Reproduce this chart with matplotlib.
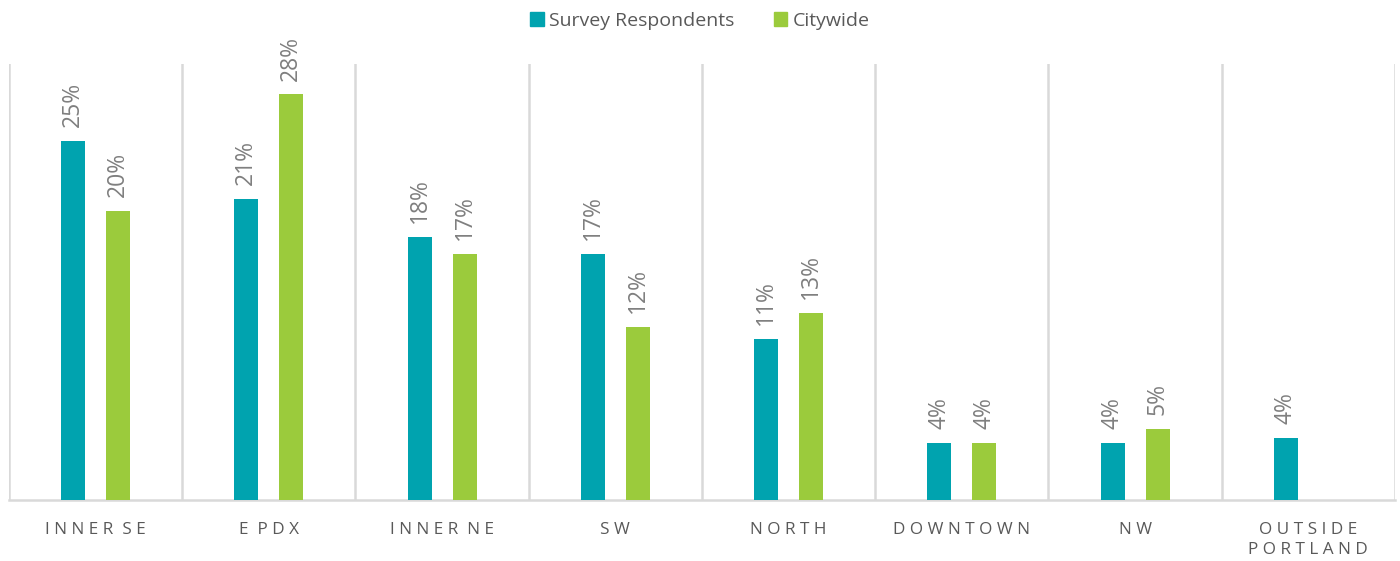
import matplotlib.pyplot as plt
import numpy as np

# data
areas = ["INNER SE", "E PDX", "INNER NE", "SW", "NORTH", "DOWNTOWN", "NW", "OUTSIDE\nPORTLAND"]
survey = [24.7, 20.7, 18.1, 16.9, 11.1, 3.9, 3.9, 4.3]
citywide = [19.9, 27.9, 16.9, 11.9, 12.9, 3.9, 4.9, None]

TEAL = "#00A3AF"
GREEN = "#9BCB3C"
GRID = "#D9D9D9"


def spaced(s):
    # fake letter spacing for the category labels
    return "\n".join(" ".join(ch for ch in line).replace("   ", "  ") for line in s.split("\n"))


plt.rcParams["font.family"] = ["Open Sans", "DejaVu Sans"]

fig = plt.figure(figsize=(14, 5.61), dpi=100)
ax = fig.add_axes([0.0064, 0.1087, 0.99, 0.7773])

x = np.arange(len(areas))
w = 0.139
off = 0.13

for i in range(len(areas)):
    vals = [(survey[i], TEAL, -off), (citywide[i], GREEN, off)]
    for v, c, o in vals:
        if v is None:
            continue
        ax.bar(x[i] + o, v, width=w, color=c, zorder=3)
        ax.annotate(f"{round(v)}%", (x[i] + o, v), xytext=(0, 10), textcoords="offset points",
                    rotation=90, ha="center", va="bottom", fontsize=16.5, color="#7F7F7F")

for b in np.arange(len(areas) + 1) - 0.5:
    ax.axvline(b, color=GRID, lw=1.8, zorder=1)

ax.set_xlim(-0.5, len(areas) - 0.5)
ax.set_ylim(0, 30)
ax.set_yticks([])
ax.set_xticks(x)
ax.set_xticklabels([spaced(a) for a in areas], fontsize=12.3, color="#595959", linespacing=1.3)
ax.tick_params(axis="x", length=0, pad=16)
for s in ["top", "left", "right"]:
    ax.spines[s].set_visible(False)
ax.spines["bottom"].set_color(GRID)
ax.spines["bottom"].set_linewidth(1.8)

# legend on top
h1 = plt.Rectangle((0, 0), 1, 1, color=TEAL)
h2 = plt.Rectangle((0, 0), 1, 1, color=GREEN)
fig.legend([h1, h2], ["Survey Respondents", "Citywide"], loc="upper center",
           bbox_to_anchor=(0.5, 1.01), ncol=2, frameon=False, fontsize=14,
           labelcolor="#595959", handlelength=0.7, handleheight=0.7,
           handletextpad=0.3, columnspacing=2.0)

fig.savefig("out.png", dpi=100)
